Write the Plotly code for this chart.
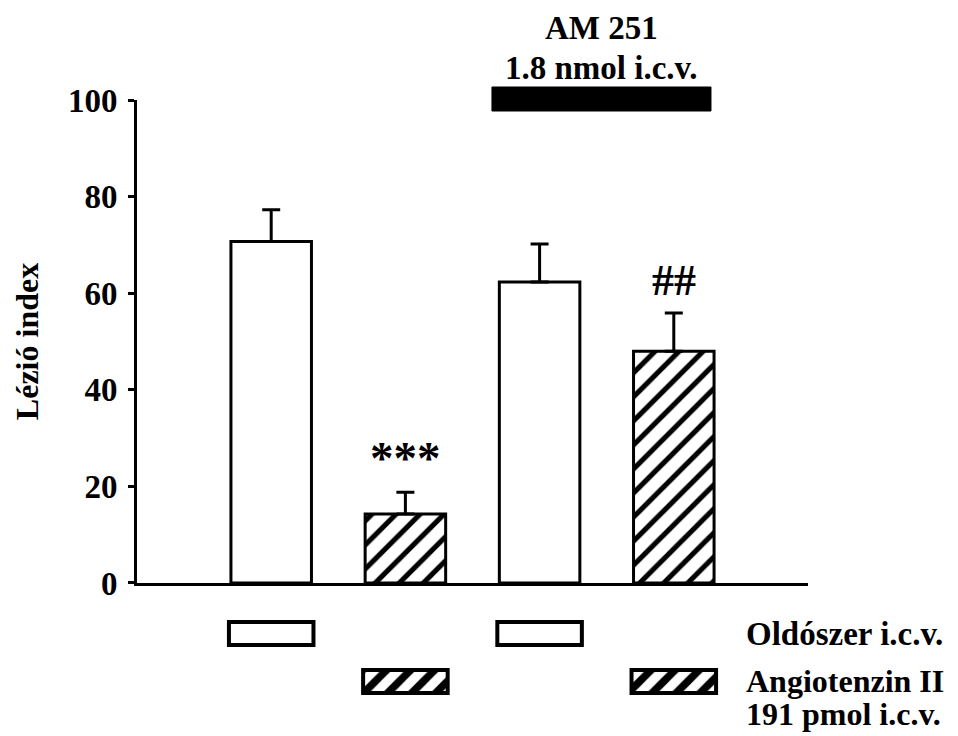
import plotly.graph_objects as go

# ---- data ----
groups = ["Oldószer", "Angiotenzin II", "AM 251 + Oldószer", "AM 251 + Angiotenzin II"]
values = [70.7, 14.3, 62.3, 48.0]
errors = [6.6, 4.5, 7.9, 7.9]
hatched = [False, True, False, True]
sig_labels = ["", "***", "", "##"]
y_ticks = [0, 20, 40, 60, 80, 100]
y_title = "Lézió index"
top_lines = ["AM 251", "1.8 nmol i.c.v."]
legend_white = "Oldószer i.c.v."
legend_hatch = ["Angiotenzin II", "191 pmol i.c.v."]

FONT = "Liberation Serif, Times New Roman, serif"
FS = 33
xpos = list(range(len(values)))

# layout geometry
MT, MB, H = 100, 30, 736
PH = H - MT - MB
MAIN_DOM0 = 0.203


def paper_y(px):
    return (H - MB - px) / PH


fig = go.Figure()

# main bars
for flag in (False, True):
    xs = [x for x, h in zip(xpos, hatched) if h == flag]
    ys = [v for v, h in zip(values, hatched) if h == flag]
    es = [e for e, h in zip(errors, hatched) if h == flag]
    fig.add_trace(go.Bar(
        x=xs, y=ys, width=0.6,
        marker=dict(color="white", line=dict(color="black", width=3),
                    pattern=dict(shape="/" if flag else "", fgcolor="black",
                                 bgcolor="white", fgopacity=1, size=17, solidity=0.3)),
        error_y=dict(type="data", symmetric=False, array=es,
                     arrayminus=[0] * len(es), color="black",
                     thickness=3, width=9),
        showlegend=False, hoverinfo="skip",
    ))

# significance markers
for x, v, e, s in zip(xpos, values, errors, sig_labels):
    if s:
        fig.add_annotation(x=x, y=v + e, yref="y", text=f"<b>{s}</b>",
                           showarrow=False, yanchor="bottom", yshift=6 if s == "***" else 6,
                           font=dict(family=FONT, size=47 if s == "***" else 44, color="black"))

# treatment indicator boxes (row 1 = vehicle, row 0 = Ang II)
white_x = [x for x, h in zip(xpos, hatched) if not h]
hatch_x = [x for x, h in zip(xpos, hatched) if h]
box_h = 0.48
fig.add_trace(go.Bar(
    x=white_x, y=[box_h] * len(white_x), base=[1 - box_h / 2] * len(white_x),
    width=0.63, yaxis="y2",
    marker=dict(color="white", line=dict(color="black", width=4)),
    showlegend=False, hoverinfo="skip"))
fig.add_trace(go.Bar(
    x=hatch_x, y=[box_h] * len(hatch_x), base=[0 - box_h / 2] * len(hatch_x),
    width=0.63, yaxis="y2",
    marker=dict(color="white", line=dict(color="black", width=4),
                pattern=dict(shape="/", fgcolor="black", bgcolor="white", fgopacity=1,
                             size=17, solidity=0.45)),
    showlegend=False, hoverinfo="skip"))

# row labels
LX = 3.53
fig.add_annotation(x=LX, y=paper_y(634), xref="x", yref="paper", text=f"<b>{legend_white}</b>",
                   showarrow=False, xanchor="left", yanchor="middle", borderpad=0,
                   font=dict(family=FONT, size=FS, color="black"))
for txt, py in zip(legend_hatch, (681, 714)):
    fig.add_annotation(x=LX, y=paper_y(py), xref="x", yref="paper", text=f"<b>{txt}</b>",
                       showarrow=False, xanchor="left", yanchor="middle", borderpad=0,
                       font=dict(family=FONT, size=FS - 1, color="black"))

# AM 251 black bar and label above bars 3-4
fig.add_shape(type="rect", x0=1.645, x1=3.277, y0=paper_y(111), y1=paper_y(87),
              xref="x", yref="paper",
              fillcolor="black", line=dict(color="black", width=1), layer="above")
for txt, py in zip(top_lines, (28, 68)):
    fig.add_annotation(x=2.46, y=paper_y(py), xref="x", yref="paper", text=f"<b>{txt}</b>",
                       showarrow=False, yanchor="middle",
                       font=dict(family=FONT, size=FS, color="black"))

fig.update_layout(
    width=958, height=736,
    margin=dict(l=137, r=150, t=MT, b=MB),
    paper_bgcolor="white", plot_bgcolor="white",
    barmode="overlay",
    xaxis=dict(range=[-1, 4], showticklabels=False, ticks="", showgrid=False,
               zeroline=False, showline=True, linecolor="black", linewidth=3,
               fixedrange=True),
    yaxis=dict(range=[0, 100], domain=[MAIN_DOM0, 1], tickvals=y_ticks,
               ticks="outside", ticklen=6, tickwidth=3, tickcolor="black",
               showline=True, linecolor="black", linewidth=3, showgrid=False,
               zeroline=False, ticklabelstandoff=4,
               tickfont=dict(family=FONT, size=FS, color="black", weight="bold"),
               title=dict(text=f"<b>{y_title}</b>", standoff=20,
                          font=dict(family=FONT, size=32, color="black"))),
    yaxis2=dict(domain=[0, MAIN_DOM0], range=[-0.51, 2.052], anchor="x",
                visible=False, showgrid=False, zeroline=False),
)

fig.write_html("out.html")
